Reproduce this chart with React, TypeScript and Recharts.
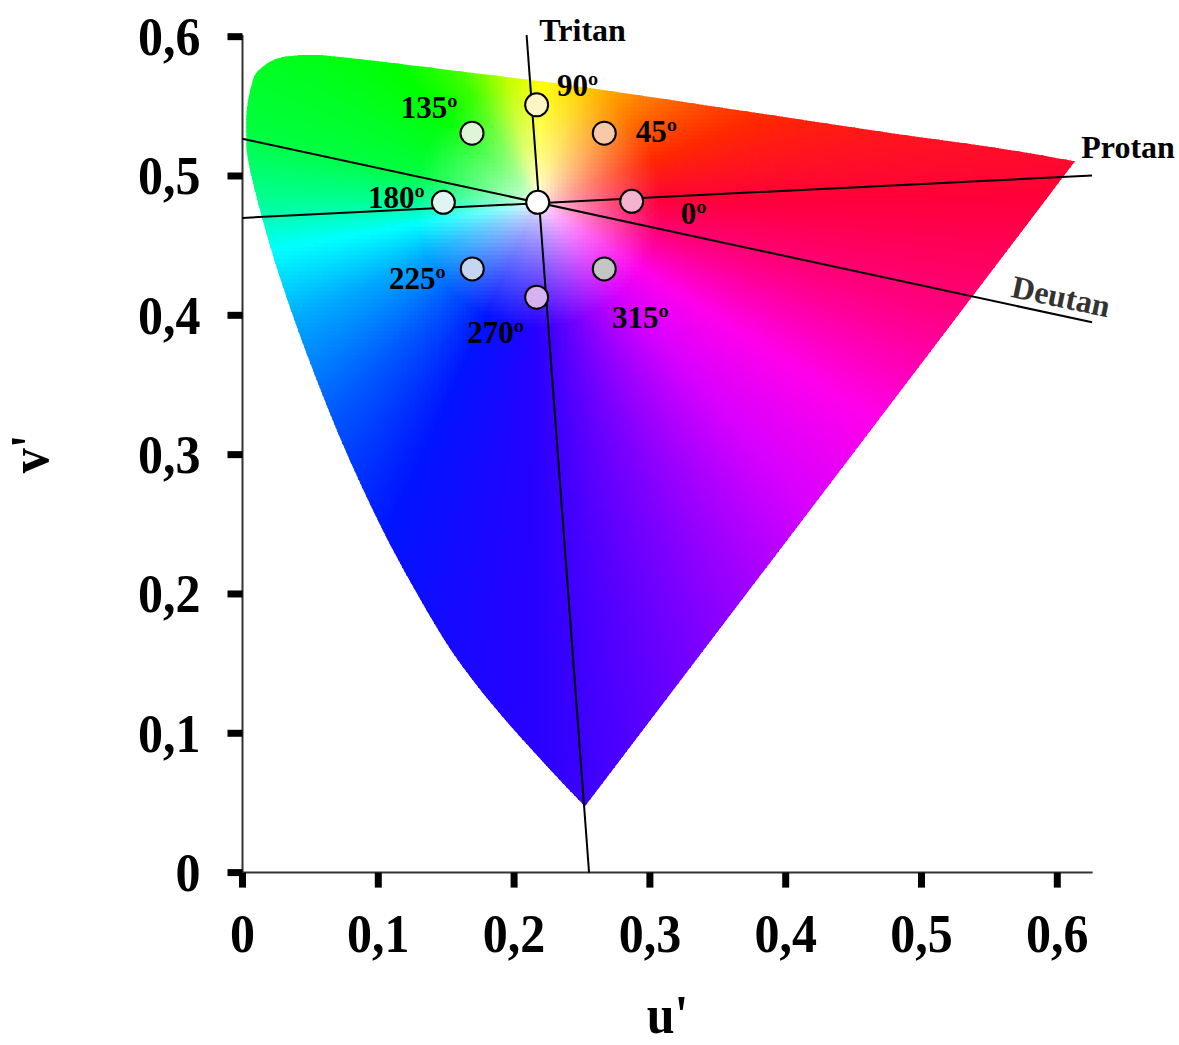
import React from 'react';
import { ScatterChart, Scatter, XAxis, YAxis, ReferenceArea, Label } from 'recharts';

const U_TICKS = [0, 0.1, 0.2, 0.3, 0.4, 0.5, 0.6];
const V_TICKS = [0, 0.1, 0.2, 0.3, 0.4, 0.5, 0.6];

// outline of the coloured region: blue tip -> left edge -> top -> red end
const LOCUS_U = [
  0.2522, 0.2417, 0.2186, 0.1857, 0.155, 0.1305, 0.1084, 0.0887, 0.0708, 0.0546, 0.0396,
  0.0259, 0.0141, 0.0043, 0.003, 0.0033, 0.006, 0.0099, 0.018, 0.0276, 0.0372, 0.0571,
  0.1013, 0.1528, 0.2095, 0.2633, 0.3369, 0.4105, 0.4842, 0.5578, 0.613,
];
const LOCUS_V = [
  0.0477, 0.0582, 0.0824, 0.1186, 0.1577, 0.1969, 0.2361, 0.2753, 0.3145, 0.3537, 0.3929,
  0.4321, 0.4713, 0.5105, 0.53, 0.548, 0.5627, 0.5735, 0.5806, 0.5849, 0.5862, 0.5866,
  0.5821, 0.5759, 0.5692, 0.562, 0.5513, 0.5406, 0.5298, 0.5198, 0.5105,
];

// confusion lines (end points)
const TRITAN_U = [0.2092, 0.2552];
const TRITAN_V = [0.6012, 0];
const PROTAN_U = [0, 0.6256];
const PROTAN_V = [0.4699, 0.5004];
const DEUTAN_U = [0, 0.6256];
const DEUTAN_V = [0.5267, 0.395];

// test colours around the white point
const MARKER_LABELS = ['', '0º', '45º', '90º', '135º', '180º', '225º', '270º', '315º'];
const MARKER_U = [0.2174, 0.2866, 0.2664, 0.2166, 0.169, 0.1479, 0.1692, 0.2166, 0.2664];
const MARKER_V = [0.4811, 0.4818, 0.5307, 0.5511, 0.5307, 0.4811, 0.4333, 0.413, 0.4333];

// styles
const FONT = '"Liberation Serif", "Times New Roman", serif';
const MARKER_FILLS = ['#ffffff', '#f4b3cf', '#f8c9a8', '#fbf6c4', '#def5d8', '#dff5f2', '#c6d6f2', '#d6b2ee', '#c5c5c5'];
const LABEL_OFFSETS: [number, number][] = [
  [0, 0], [62, 12], [52, -2], [41, -19], [-43, -26], [-47, -5], [-55, 10], [-41, 35], [36, 49],
];
const HUE_STOPS: [number, number, number, number][] = [
  [0, 255, 0, 60], [20, 255, 40, 0], [45, 255, 130, 0], [70, 255, 215, 0], [88, 255, 255, 0],
  [105, 190, 255, 0], [122, 60, 255, 0], [137, 0, 255, 0], [166, 0, 255, 60], [180, 0, 255, 150],
  [190, 0, 255, 255], [205, 0, 170, 255], [225, 0, 90, 255], [245, 0, 20, 255], [270, 40, 0, 255],
  [292, 130, 0, 255], [312, 215, 0, 255], [328, 255, 0, 235], [345, 255, 0, 130], [360, 255, 0, 60],
];

const toPts = (us: number[], vs: number[]) => us.map((u, i) => ({ u, v: vs[i] }));
const tritanData = toPts(TRITAN_U, TRITAN_V);
const protanData = toPts(PROTAN_U, PROTAN_V);
const deutanData = toPts(DEUTAN_U, DEUTAN_V);
const markerData = MARKER_U.map((u, i) => ({ u, v: MARKER_V[i], name: MARKER_LABELS[i], i }));

const fmt = (v: number) => (v === 0 ? '0' : v.toFixed(1).replace('.', ','));

function hueColor(angle: number) {
  for (let k = 1; k < HUE_STOPS.length; k++) {
    const a = HUE_STOPS[k - 1];
    const b = HUE_STOPS[k];
    if (angle <= b[0]) {
      const t = (angle - a[0]) / (b[0] - a[0]);
      return [a[1] + (b[1] - a[1]) * t, a[2] + (b[2] - a[2]) * t, a[3] + (b[3] - a[3]) * t];
    }
  }
  return [255, 0, 60];
}

function colorAt(u: number, v: number) {
  const du = u - MARKER_U[0];
  const dv = v - MARKER_V[0];
  let ang = (Math.atan2(dv, du) * 180) / Math.PI;
  if (ang < 0) ang += 360;
  const d = Math.sqrt(du * du + dv * dv);
  const s = Math.pow(Math.min(1, d / 0.09), 0.7);
  const h = hueColor(ang);
  const r = Math.round(255 * (1 - s) + h[0] * s);
  const g = Math.round(255 * (1 - s) + h[1] * s);
  const b = Math.round(255 * (1 - s) + h[2] * s);
  return `rgb(${r},${g},${b})`;
}

function inside(pts: number[][], x: number, y: number) {
  let c = false;
  for (let i = 0, j = pts.length - 1; i < pts.length; j = i++) {
    const [xi, yi] = pts[i];
    const [xj, yj] = pts[j];
    if (yi > y !== yj > y && x < ((xj - xi) * (y - yi)) / (yj - yi) + xi) c = !c;
  }
  return c;
}

// smooth (Catmull-Rom) outline along the curved part, straight purple line back to the tip
function outlinePath(pts: number[][]) {
  let d = `M${pts[0][0]},${pts[0][1]}`;
  for (let i = 0; i < pts.length - 1; i++) {
    const p0 = pts[Math.max(0, i - 1)];
    const p1 = pts[i];
    const p2 = pts[i + 1];
    const p3 = pts[Math.min(pts.length - 1, i + 2)];
    const c1x = p1[0] + (p2[0] - p0[0]) / 6;
    const c1y = p1[1] + (p2[1] - p0[1]) / 6;
    const c2x = p2[0] - (p3[0] - p1[0]) / 6;
    const c2y = p2[1] - (p3[1] - p1[1]) / 6;
    d += `C${c1x},${c1y} ${c2x},${c2y} ${p2[0]},${p2[1]}`;
  }
  return d + 'Z';
}

const GamutFill = (props: any) => {
  const { x, y, width, height } = props;
  if (!(width > 0) || !(height > 0)) return <g />;
  const sx = width / 0.6;
  const sy = height / 0.6;
  const pts = LOCUS_U.map((u, i) => [x + u * sx, y + height - LOCUS_V[i] * sy]);
  const d = outlinePath(pts);
  const xs = pts.map((p) => p[0]);
  const ys = pts.map((p) => p[1]);
  const minX = Math.floor(Math.min(...xs)) - 4;
  const maxX = Math.ceil(Math.max(...xs)) + 4;
  const minY = Math.floor(Math.min(...ys)) - 4;
  const maxY = Math.ceil(Math.max(...ys)) + 4;
  const step = 4;
  const m = 3;
  const cells: React.ReactNode[] = [];
  for (let yy = minY; yy < maxY; yy += step) {
    for (let xx = minX; xx < maxX; xx += step) {
      const hit =
        inside(pts, xx - m, yy - m) || inside(pts, xx + step + m, yy - m) ||
        inside(pts, xx - m, yy + step + m) || inside(pts, xx + step + m, yy + step + m) ||
        inside(pts, xx + step / 2, yy + step / 2);
      if (!hit) continue;
      const u = (xx + step / 2 - x) / sx;
      const v = (y + height - (yy + step / 2)) / sy;
      cells.push(
        <rect key={`${xx}-${yy}`} x={xx} y={yy} width={step + 0.5} height={step + 0.5} fill={colorAt(u, v)} />
      );
    }
  }
  return (
    <g>
      <defs>
        <clipPath id="gamut-clip">
          <path d={d} />
        </clipPath>
      </defs>
      <g clipPath="url(#gamut-clip)" shapeRendering="crispEdges">
        {cells}
      </g>
    </g>
  );
};

const lineEnd = (label: string, endU: number, dx: number, dy: number, extra: any = {}) => (props: any) => {
  const { cx, cy, payload } = props;
  if (!label || payload.u !== endU) return <g />;
  return (
    <text
      x={cx + dx}
      y={cy + dy}
      textAnchor="middle"
      fontFamily={FONT}
      fontWeight={700}
      fontSize={32}
      fill={extra.fill || '#000'}
      dominantBaseline={extra.baseline}
      transform={extra.rotate ? `rotate(${extra.rotate}, ${cx + dx}, ${cy + dy})` : undefined}
    >
      {label}
    </text>
  );
};

const MarkerShape = (props: any) => {
  const { cx, cy, payload } = props;
  const i = payload.i;
  const [dx, dy] = LABEL_OFFSETS[i];
  return (
    <g>
      <circle cx={cx} cy={cy} r={11.5} fill={MARKER_FILLS[i]} stroke="#000" strokeWidth={2} />
      {payload.name && (
        <text
          x={cx + dx}
          y={cy + dy}
          textAnchor="middle"
          dominantBaseline="central"
          fontFamily={FONT}
          fontWeight={700}
          fontSize={31}
          fill="#000"
        >
          {payload.name}
        </text>
      )}
    </g>
  );
};

// tick labels in the figure are a little taller than wide
const XTick = (props: any) => {
  const { x, y, payload } = props;
  return (
    <g transform={`translate(${x},${y}) scale(1,1.08)`}>
      <text x={0} y={0} dy="0.71em" textAnchor="middle" fontFamily={FONT} fontWeight={700} fontSize={50} fill="#000">
        {fmt(payload.value)}
      </text>
    </g>
  );
};

const YTick = (props: any) => {
  const { x, y, payload } = props;
  return (
    <g transform={`translate(${x},${y}) scale(1,1.08)`}>
      <text x={0} y={0} dy="0.34em" textAnchor="end" fontFamily={FONT} fontWeight={700} fontSize={50} fill="#000">
        {fmt(payload.value)}
      </text>
    </g>
  );
};

export default function App() {
  return (
    <div style={{ position: 'absolute', left: 0, top: 0, width: 1179, height: 1045, background: '#fff' }}>
      <ScatterChart width={1179} height={1045} margin={{ top: 35, right: 86.4, bottom: 0, left: 0 }}>
        <XAxis
          type="number"
          dataKey="u"
          domain={[0, 0.626]}
          ticks={U_TICKS}
          height={172.4}
          tick={<XTick />}
          tickSize={15}
          tickMargin={26}
          tickLine={{ stroke: '#000', strokeWidth: 7 }}
          axisLine={{ stroke: '#333', strokeWidth: 2 }}
        >
          <Label
            content={(p: any) => {
              const vb = p.viewBox || {};
              const tx = vb.x + vb.width / 2;
              const ty = vb.y + vb.height - 12;
              return (
                <g transform={`translate(${tx},${ty}) scale(1,1.08)`}>
                  <text x={0} y={0} textAnchor="middle" fontFamily={FONT} fontWeight={700} fontSize={50} fill="#000">
                    u'
                  </text>
                </g>
              );
            }}
          />
        </XAxis>
        <YAxis
          type="number"
          dataKey="v"
          domain={[0, 0.6]}
          ticks={V_TICKS}
          width={242.5}
          tick={<YTick />}
          tickSize={15}
          tickMargin={27}
          tickLine={{ stroke: '#000', strokeWidth: 7 }}
          axisLine={{ stroke: '#333', strokeWidth: 2 }}
        >
          <Label
            content={(p: any) => {
              const vb = p.viewBox || {};
              const tx = vb.x + 48;
              const ty = vb.y + vb.height / 2;
              return (
                <g transform={`translate(${tx},${ty}) rotate(-90) scale(1,1.08)`}>
                  <text x={0} y={0} textAnchor="middle" fontFamily={FONT} fontWeight={700} fontSize={50} fill="#000">
                    v'
                  </text>
                </g>
              );
            }}
          />
        </YAxis>
        <ReferenceArea x1={0} x2={0.6} y1={0} y2={0.6} shape={(p: any) => <GamutFill {...p} />} />
        <Scatter data={tritanData} line={{ stroke: '#000', strokeWidth: 2 }} shape={lineEnd('Tritan', TRITAN_U[0], 56, 6)} isAnimationActive={false} />
        <Scatter data={protanData} line={{ stroke: '#000', strokeWidth: 2 }} shape={lineEnd('Protan', PROTAN_U[1], 36, -17)} isAnimationActive={false} />
        <Scatter
          data={deutanData}
          line={{ stroke: '#000', strokeWidth: 2 }}
          shape={lineEnd('Deutan', DEUTAN_U[1], -31, -26, { fill: '#333', rotate: 12, baseline: 'central' })}
          isAnimationActive={false}
        />
        <Scatter data={markerData} shape={MarkerShape} isAnimationActive={false} />
      </ScatterChart>
    </div>
  );
}
